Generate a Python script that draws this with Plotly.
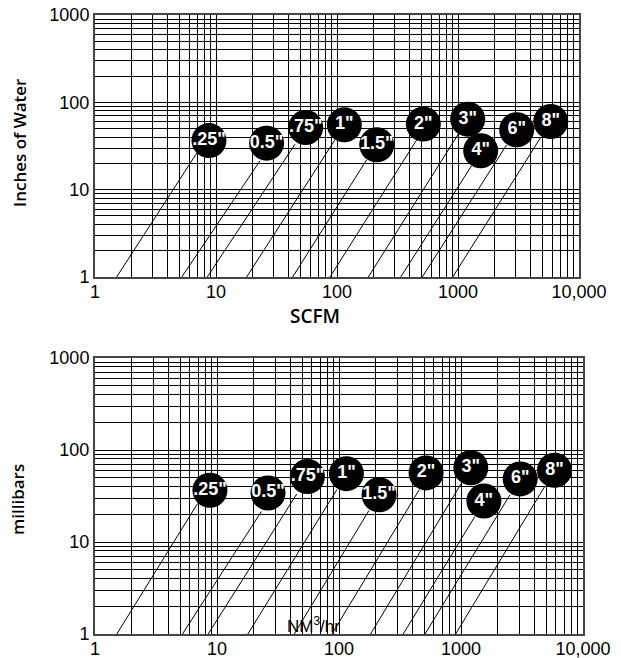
import plotly.graph_objects as go
from plotly.subplots import make_subplots

# ---- data ----
pipe_sizes = ['.25"', '0.5"', '.75"', '1"', '1.5"', '2"', '3"', '4"', '6"', '8"']
line_start_flow = [1.51, 5.21, 8.47, 17.9, 43.0, 87.5, 181.5, 336, 507, 904]
line_start_pressure = [1, 1, 1, 1, 1, 1, 1, 1, 1, 1]
line_end_flow = [6.93, 23.1, 45.0, 96.2, 176, 456, 1006, 1298, 2523, 4823]
line_end_pressure = [26.2, 21.4, 33.2, 37.2, 22.0, 37.2, 43.3, 18.9, 32.6, 39.6]
label_flow = [8.75, 26.2, 55.1, 115, 213, 517, 1203, 1540, 3055, 5840]
label_pressure = [36.5, 34.1, 51.5, 55.3, 32.6, 56.3, 64.2, 27.9, 48.5, 60.3]

x_major = [1, 10, 100, 1000, 10000]
x_major_text = ["1", "10", "100", "1000", "10,000"]
y_major = [1, 10, 100, 1000]
y_major_text = ["1", "10", "100", "1000"]

W, H = 621, 658
ML, MR, MT, MB = 95, 38, 15, 24
PW = W - ML - MR
PH = H - MT - MB


def minor_vals(majors):
    vals = []
    for m in majors[:-1]:
        for k in range(2, 10):
            vals.append(m * k)
    return vals


fig = make_subplots(rows=2, cols=1)

lx, ly = [], []
for a, b, c, d in zip(line_start_flow, line_end_flow, line_start_pressure, line_end_pressure):
    lx += [a, b, None]
    ly += [c, d, None]

for r in (1, 2):
    fig.add_trace(go.Scatter(x=lx, y=ly, mode="lines",
                             line=dict(color="black", width=1),
                             hoverinfo="skip", showlegend=False), row=r, col=1)
    fig.add_trace(go.Scatter(x=label_flow, y=label_pressure, mode="markers+text",
                             text=pipe_sizes, textposition="middle center",
                             marker=dict(size=35, color="black", line=dict(width=0)),
                             textfont=dict(family="Liberation Sans", size=18,
                                           color="white", weight="bold"),
                             showlegend=False), row=r, col=1)

axis_common = dict(type="log", showgrid=True, gridcolor="black", gridwidth=1,
                   showline=True, linecolor="#444", linewidth=2, mirror=True,
                   ticks="", zeroline=False, automargin=False,
                   tickfont=dict(family="Liberation Sans", size=18, color="black"))

fig.update_xaxes(axis_common, tickvals=x_major, ticktext=x_major_text, range=[0, 4],
                 ticklabelstandoff=-3,
                 minor=dict(tickvals=minor_vals(x_major), showgrid=True,
                            gridcolor="black", gridwidth=1, ticks=""))
fig.update_yaxes(axis_common, tickvals=y_major, ticktext=y_major_text, range=[0, 3],
                 minor=dict(tickvals=minor_vals(y_major), showgrid=True,
                            gridcolor="black", gridwidth=1, ticks=""))

fig.update_layout(
    width=W, height=H, autosize=False,
    margin=dict(l=ML, r=MR, t=MT, b=MB),
    paper_bgcolor="white", plot_bgcolor="white",
    xaxis=dict(domain=[0, (579 - ML) / PW]),
    yaxis=dict(domain=[(H - MB - 277) / PH, 1.0]),
    xaxis2=dict(domain=[0, 1]),
    yaxis2=dict(domain=[0, (H - MB - 358) / PH]),
)


def px_x(p):
    return (p - ML) / PW


def px_y(p):
    return (H - MB - p) / PH


title_font = dict(family="Open Sans", size=17, color="black", weight=600)
fig.add_annotation(x=px_x(315), y=px_y(316), xref="paper", yref="paper",
                   text="SCFM", showarrow=False,
                   font=dict(family="Open Sans", size=19, color="black", weight=600),
                   xanchor="center", yanchor="middle")
fig.add_annotation(x=px_x(20), y=px_y(143), xref="paper", yref="paper",
                   text="Inches of Water", showarrow=False, font=title_font,
                   textangle=-90, xanchor="center", yanchor="middle")
fig.add_annotation(x=px_x(17), y=px_y(500), xref="paper", yref="paper",
                   text="millibars", showarrow=False, font=title_font,
                   textangle=-90, xanchor="center", yanchor="middle")
fig.add_annotation(x=px_x(313), y=px_y(625), xref="paper", yref="paper",
                   text="NM<sup>3</sup>/hr", showarrow=False,
                   font=dict(family="Liberation Sans", size=17, color="black"),
                   xanchor="center", yanchor="middle")

fig.write_html("out.html", config={"displayModeBar": False},
               post_script="document.body.style.margin='0';")
